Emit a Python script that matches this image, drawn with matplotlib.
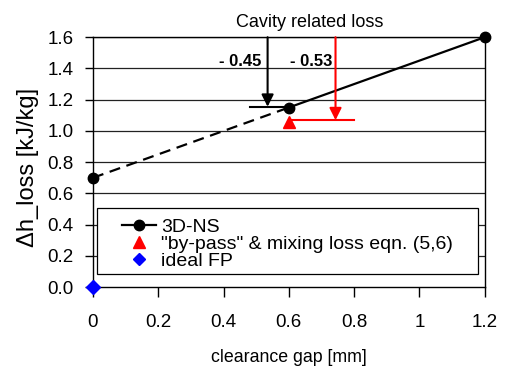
import matplotlib.pyplot as plt
from matplotlib.lines import Line2D
from matplotlib.patches import Rectangle

plt.rcParams['font.family'] = ['Liberation Sans', 'DejaVu Sans']

# 3D-NS results
gap_ns = [0.0, 0.6, 1.2]
loss_ns = [0.70, 1.15, 1.60]
# by-pass & mixing loss model
gap_model = [0.6]
loss_model = [1.06]
# ideal flat plate
gap_ideal = [0.0]
loss_ideal = [0.0]

# annotations: cavity related loss drops (x, from, to, line end, label)
drop_ns = (0.535, 1.60, 1.155, 0.48, '- 0.45')
drop_model = (0.743, 1.60, 1.069, 0.80, '- 0.53')

xticks = [0, 0.2, 0.4, 0.6, 0.8, 1.0, 1.2]
xticklabels = ['0', '0.2', '0.4', '0.6', '0.8', '1', '1.2']
yticks = [0.0, 0.2, 0.4, 0.6, 0.8, 1.0, 1.2, 1.4, 1.6]

fig = plt.figure(figsize=(5.19, 3.72), dpi=100)
ax = fig.add_axes([0.179, 0.228, 0.755, 0.672])

for y in yticks[1:]:
    ax.axhline(y, color='#222222', lw=0.9, zorder=1)

ax.plot(gap_ns[:2], loss_ns[:2], color='black', lw=1.6, ls=(0, (5, 3)), zorder=3)
ax.plot(gap_ns[1:], loss_ns[1:], color='black', lw=1.6, zorder=3)
ax.plot(gap_ns, loss_ns, 'o', color='black', ms=7.5, zorder=4, clip_on=False)
ax.plot(gap_model, loss_model, '^', color='red', ms=8, zorder=4, clip_on=False)
ax.plot(gap_ideal, loss_ideal, 'D', color='blue', ms=7, zorder=8, clip_on=False)

# black arrow (3D-NS)
x, y0, y1, xl, lab = drop_ns
ax.annotate('', xy=(x, y1), xytext=(x, y0),
            arrowprops=dict(arrowstyle='-|>', color='black', lw=1.5, mutation_scale=18,
                            shrinkA=0, shrinkB=0), zorder=6)
ax.plot([xl, gap_ns[1]], [y1, y1], color='black', lw=1.5, zorder=6)
ax.text(x - 0.02, 1.446, lab, ha='right', va='center', fontsize=12, fontweight='bold')

# red arrow (model)
x, y0, y1, xr, lab = drop_model
ax.annotate('', xy=(x, y1), xytext=(x, y0),
            arrowprops=dict(arrowstyle='-|>', color='red', lw=1.5, mutation_scale=18,
                            shrinkA=0, shrinkB=0), zorder=6)
ax.plot([gap_model[0] + 0.005, xr], [y1, y1], color='red', lw=1.5, zorder=6)
ax.text(x - 0.01, 1.446, lab, ha='right', va='center', fontsize=12, fontweight='bold')

ax.text(0.665, 1.665, 'Cavity related loss', ha='center', va='baseline', fontsize=13)

ax.set_xlim(0, 1.2)
ax.set_ylim(0, 1.6)
ax.set_xticks(xticks)
ax.set_xticklabels(xticklabels)
ax.set_yticks(yticks)
ax.set_yticklabels([f'{v:.1f}' for v in yticks])
ax.tick_params(axis='x', direction='out', length=7, width=1, labelsize=13.5, pad=12)
ax.tick_params(axis='y', direction='out', length=6, width=1, labelsize=13.5, pad=8)
for s in ax.spines.values():
    s.set_linewidth(1.0)
    s.set_color('black')

ax.set_xlabel('clearance gap [mm]', fontsize=12.8, labelpad=13)
fig.text(28 / 519, 1 - 167 / 372, '\u0394h_loss [kJ/kg]', rotation=90,
         ha='center', va='center', fontsize=17)

# legend frame
ax.add_patch(Rectangle((0.01, 0.052), 0.974, 0.264, transform=ax.transAxes,
                       facecolor='white', edgecolor='black', lw=0.9, zorder=6))
handles = [
    Line2D([], [], color='black', marker='o', lw=1.6, ms=7.5),
    Line2D([], [], color='red', marker='^', lw=0, ms=8),
    Line2D([], [], color='blue', marker='D', lw=0, ms=6.5),
]
labels = ['3D-NS', '"by-pass" & mixing loss eqn. (5,6)', 'ideal FP']
leg = ax.legend(handles, labels, loc='upper left', bbox_to_anchor=(0.074, 0.277),
                fontsize=14, frameon=False, borderpad=0, labelspacing=-0.03,
                handlelength=1.75, handletextpad=0.25, borderaxespad=0)
leg.set_zorder(7)

fig.savefig('out.png', dpi=100)
